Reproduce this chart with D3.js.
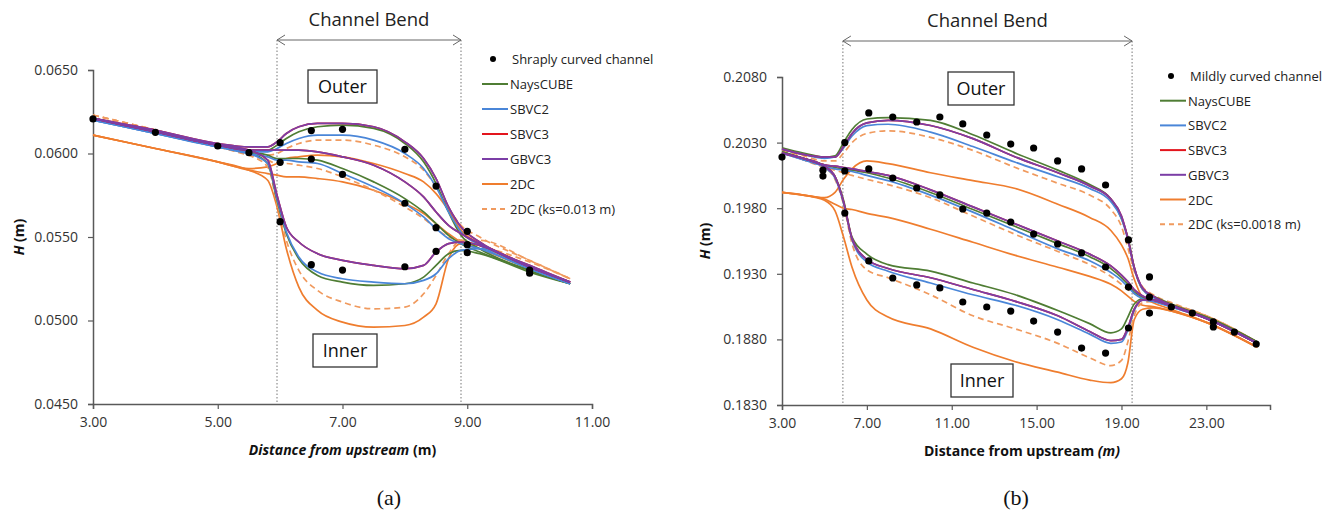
<!DOCTYPE html>
<html>
<head>
<meta charset="utf-8">
<script src="https://d3js.org/d3.v7.min.js"></script>
<style>
  body { margin: 0; background: #fff; }
  text { font-family: "Open Sans", "Noto Sans", sans-serif; }
</style>
</head>
<body>
<svg id="fig" width="1338" height="520"></svg>
<script>

// ---------- panel (a): sharply curved channel ----------
const xA = [3, 4, 5, 5.5, 5.8, 5.95, 6.1, 6.3, 6.6, 7, 7.5, 8, 8.3, 8.5, 8.7, 8.9, 9.2, 10, 10.65]
// each model: [outer, centre, inner]
const naysA = [
  [.0621,.0613,.0605,.0602,.0602,.0605,.0609,.0613,.0616,.0617,.0615,.0606,.0595,.0582,.0565,.0551,.0543,.0530,.0522],
  [.0621,.0613,.0605,.0601,.0599,.0597,.0597,.0597,.0596,.0591,.0583,.0573,.0565,.0558,.0551,.0546,.0541,.0530,.0522],
  [.0621,.0613,.0605,.0601,.0594,.0572,.0552,.0537,.0527,.0523,.0521,.0522,.0526,.0533,.0540,.0542,.0540,.0529,.0522]]
const sbvc2A = [
  [.0620,.0612,.0604,.0601,.0601,.0603,.0606,.0609,.0611,.0611,.0608,.0600,.0591,.0580,.0565,.0553,.0545,.0531,.0522],
  [.0620,.0612,.0604,.0600,.0598,.0596,.0596,.0595,.0594,.0588,.0580,.0570,.0562,.0555,.0549,.0546,.0543,.0531,.0522],
  [.0620,.0612,.0604,.0600,.0594,.0573,.0553,.0538,.0529,.0525,.0523,.0522,.0524,.0528,.0537,.0542,.0543,.0531,.0522]]
const sbvc3A = [
  [.0621,.0614,.0606,.0604,.0604,.0607,.0612,.0616,.0618,.0618,.0616,.0607,.0597,.0585,.0568,.0556,.0547,.0533,.0523],
  [.0621,.0613,.0605,.0602,.0602,.0602,.0602,.0602,.0601,.0598,.0593,.0583,.0574,.0565,.0557,.0552,.0546,.0532,.0523],
  [.0621,.0613,.0605,.0602,.0596,.0575,.0556,.0547,.0540,.0536,.0533,.0531,.0533,.0541,.0546,.0547,.0545,.0532,.0523]]
const gbvc3A = [
  [.0621,.0614,.0606,.0604,.0604,.0607,.0612,.0616,.0618,.0618,.0616,.0607,.0597,.0585,.0568,.0556,.0547,.0533,.0523],
  [.0621,.0613,.0605,.0602,.0602,.0602,.0602,.0602,.0601,.0598,.0593,.0583,.0574,.0565,.0557,.0552,.0546,.0532,.0523],
  [.0621,.0613,.0605,.0602,.0596,.0575,.0556,.0547,.0540,.0536,.0533,.0531,.0533,.0541,.0546,.0547,.0545,.0532,.0523]]
const dc2A = [
  [.0611,.0603,.0595,.0591,.0592,.0594,.0597,.0598,.0599,.0598,.0594,.0588,.0583,.0576,.0566,.0554,.0546,.0532,.0522],
  [.0611,.0603,.0595,.0590,.0588,.0587,.0586,.0586,.0585,.0583,.0578,.0570,.0564,.0558,.0552,.0547,.0543,.0531,.0522],
  [.0611,.0603,.0595,.0590,.0584,.0568,.0543,.0520,.0506,.0499,.0496,.0497,.0502,.0510,.0537,.0546,.0545,.0532,.0522]]
const dcKsA = [
  [.0623,.0614,.0604,.0600,.0599,.0600,.0603,.0606,.0608,.0608,.0605,.0598,.0590,.0580,.0567,.0557,.0550,.0536,.0525],
  [.0623,.0614,.0604,.0599,.0596,.0594,.0594,.0593,.0591,.0586,.0578,.0568,.0561,.0555,.0550,.0548,.0545,.0535,.0525],
  [.0623,.0614,.0604,.0599,.0592,.0570,.0548,.0530,.0518,.0511,.0507,.0508,.0516,.0527,.0540,.0548,.0548,.0536,.0525]]
// measured points
const measXA = [3, 4, 5, 5.5, 6, 6, 6, 6.5, 6.5, 6.5, 7, 7, 7, 8, 8, 8, 8.5, 8.5, 8.5, 9, 9, 9, 10, 10]
const measYA = [.06207, .06127, .06045, .06005, .06065, .05947, .05592, .06137, .05967, .05334,
  .06145, .05875, .05302, .06025, .05702, .05322, .05805, .05556, .05414, .05534, .05454, .05406, .05302, .05283]
const bendA = [5.95, 8.9]
const xTicksA = [3, 5, 7, 9, 11]
const yTicksA = [0.045, 0.050, 0.055, 0.060, 0.065]

// ---------- panel (b): mildly curved channel ----------
const xB = [3, 4, 5, 5.5, 5.9, 6.3, 7, 8, 10, 12, 14, 16, 17.5, 18.5, 19, 19.3, 19.6, 20, 20.5, 21.5, 23, 25.4]
const naysB = [
  [.2026,.2022,.2019,.2020,.2030,.2040,.2048,.2049,.2047,.2036,.2022,.2009,.1998,.1987,.1972,.1958,.1935,.1918,.1913,.1906,.1897,.1878],
  [.2023,.2018,.2013,.2011,.2010,.2009,.2007,.2003,.1992,.1979,.1966,.1953,.1943,.1934,.1927,.1922,.1916,.1912,.1910,.1905,.1897,.1878],
  [.2023,.2018,.2012,.2004,.1986,.1958,.1945,.1937,.1932,.1923,.1914,.1902,.1892,.1885,.1888,.1897,.1907,.1911,.1910,.1905,.1897,.1878]]
const sbvc2B = [
  [.2025,.2021,.2018,.2019,.2026,.2035,.2043,.2044,.2038,.2027,.2015,.2004,.1995,.1985,.1972,.1956,.1934,.1918,.1912,.1905,.1896,.1877],
  [.2022,.2017,.2012,.2010,.2009,.2008,.2005,.2001,.1990,.1977,.1963,.1949,.1940,.1931,.1925,.1920,.1915,.1911,.1909,.1904,.1896,.1877],
  [.2022,.2017,.2011,.2003,.1984,.1956,.1939,.1932,.1923,.1914,.1906,.1895,.1884,.1877,.1878,.1887,.1902,.1910,.1909,.1904,.1896,.1877]]
const sbvc3B = [
  [.2025,.2021,.2019,.2019,.2027,.2037,.2045,.2047,.2043,.2033,.2019,.2007,.1997,.1987,.1974,.1957,.1935,.1919,.1913,.1905,.1896,.1877],
  [.2022,.2018,.2013,.2012,.2011,.2010,.2008,.2005,.1994,.1981,.1968,.1955,.1945,.1936,.1929,.1924,.1918,.1913,.1910,.1905,.1896,.1877],
  [.2022,.2018,.2012,.2004,.1985,.1957,.1941,.1934,.1927,.1918,.1909,.1898,.1886,.1879,.1880,.1889,.1903,.1910,.1910,.1905,.1896,.1877]]
const gbvc3B = [
  [.2025,.2021,.2019,.2019,.2027,.2037,.2045,.2047,.2043,.2033,.2019,.2007,.1997,.1987,.1974,.1957,.1935,.1919,.1913,.1905,.1896,.1877],
  [.2022,.2018,.2013,.2012,.2011,.2010,.2008,.2005,.1994,.1981,.1968,.1955,.1945,.1936,.1929,.1924,.1918,.1913,.1910,.1905,.1896,.1877],
  [.2022,.2018,.2012,.2004,.1985,.1957,.1941,.1934,.1927,.1918,.1909,.1898,.1886,.1879,.1880,.1889,.1903,.1910,.1910,.1905,.1896,.1877]]
const dc2B = [
  [.1992,.1990,.1988,.1992,.2002,.2010,.2016,.2014,.2007,.2001,.1995,.1983,.1973,.1963,.1952,.1942,.1926,.1912,.1908,.1902,.1893,.1874],
  [.1992,.1990,.1987,.1983,.1980,.1979,.1976,.1973,.1964,.1954,.1944,.1935,.1928,.1922,.1917,.1913,.1909,.1906,.1905,.1901,.1893,.1874],
  [.1992,.1990,.1986,.1978,.1958,.1935,.1910,.1897,.1888,.1874,.1863,.1855,.1849,.1847,.1850,.1862,.1895,.1903,.1904,.1901,.1893,.1874]]
const dcKsB = [
  [.2024,.2020,.2016,.2016,.2022,.2030,.2037,.2039,.2034,.2024,.2011,.1999,.1990,.1979,.1966,.1950,.1932,.1920,.1914,.1907,.1898,.1878],
  [.2023,.2017,.2011,.2009,.2007,.2005,.2002,.1998,.1988,.1974,.1960,.1947,.1937,.1928,.1922,.1918,.1915,.1912,.1910,.1906,.1898,.1878],
  [.2023,.2017,.2011,.2002,.1983,.1953,.1933,.1927,.1914,.1898,.1888,.1877,.1866,.1860,.1864,.1878,.1898,.1908,.1909,.1906,.1898,.1878]]
const measXB = [3, 4.93, 4.93,
  5.96, 7.09, 8.22, 9.35, 10.44, 11.52, 12.65, 13.78, 14.86, 15.99, 17.12, 18.25, 19.33, 20.32,
  5.96, 7.09, 8.22, 9.35, 10.44, 11.52, 12.65, 13.78, 14.86, 15.99, 17.12, 18.25, 19.33, 20.32,
  5.96, 7.09, 8.22, 9.35, 10.44, 11.52, 12.65, 13.78, 14.86, 15.99, 17.12, 18.25, 19.33, 20.32,
  21.35, 22.34, 23.33, 23.33, 24.32, 25.35]
const measYB = [.2019, .2009, .20045,
  .2030, .20526, .20495, .20457, .20495, .20442, .20358, .20289, .20259, .2016, .20099, .19977, .19558, .19276,
  .20084, .20099, .2003, .19954, .19901, .19794, .19763, .19695, .19603, .19527, .19459, .19352, .19199, .19123,
  .19763, .19398, .19268, .19215, .19192, .19085, .19047, .19016, .1894, .18856, .18734, .18696, .18887, .19001,
  .19047, .19001, .18933, .18895, .18856, .18765]
const bendB = [5.87, 19.5]
const xTicksB = [3, 7, 11, 15, 19, 23]
const yTicksB = [0.183, 0.188, 0.193, 0.198, 0.203, 0.208]

const seriesNames = ["NaysCUBE", "SBVC2", "SBVC3", "GBVC3", "2DC"]
const seriesColors = ["#4f7d34", "#4a86d8", "#e3151d", "#7b3ea6", "#ef7d2e"]
const dashColor = "#f09a5e"

const svg = d3.select("#fig")

function drawPanel(p) {
  const x = d3.scaleLinear().domain(p.xDomain).range(p.xRange)
  const y = d3.scaleLinear().domain(p.yDomain).range(p.yRange)
  const g = svg.append("g")

  // bend markers
  p.bend.forEach(b => {
    g.append("line")
      .attr("x1", x(b)).attr("x2", x(b))
      .attr("y1", p.arrowY).attr("y2", p.yRange[0])
      .attr("stroke", "#777").attr("stroke-width", 1).attr("stroke-dasharray", "1.5,2")
  })
  const ax1 = x(p.bend[0]), ax2 = x(p.bend[1])
  g.append("line").attr("x1", ax1).attr("x2", ax2).attr("y1", p.arrowY).attr("y2", p.arrowY)
    .attr("stroke", "#666").attr("stroke-width", 1)
  g.append("path").attr("fill", "none").attr("stroke", "#666").attr("stroke-width", 1)
    .attr("d", `M${ax1 + 8},${p.arrowY - 5}L${ax1},${p.arrowY}L${ax1 + 8},${p.arrowY + 5}` +
               `M${ax2 - 8},${p.arrowY - 5}L${ax2},${p.arrowY}L${ax2 - 8},${p.arrowY + 5}`)
  g.append("text").attr("x", (ax1 + ax2) / 2).attr("y", p.arrowY - 14)
    .attr("text-anchor", "middle").attr("font-size", 18.5).attr("fill", "#222").text("Channel Bend")

  // axes
  const xAxis = g.append("g").attr("transform", "translate(0," + p.yRange[0] + ")")
    .call(d3.axisBottom(x).tickValues(p.xTicks).tickFormat(d3.format(".2f")).tickSize(5).tickPadding(8))
  const yAxis = g.append("g").attr("transform", "translate(" + p.xRange[0] + ",0)")
    .call(d3.axisLeft(y).tickValues(p.yTicks).tickFormat(d3.format(".4f")).tickSize(5).tickPadding(10))
  ;[xAxis, yAxis].forEach(a => {
    a.select(".domain").attr("stroke", "#595959").attr("stroke-width", 1.5)
    a.selectAll(".tick line").attr("stroke", "#595959").attr("stroke-width", 1.2)
    a.selectAll(".tick text").attr("font-size", 14).attr("fill", "#333")
      .style("font-family", "'Open Sans', sans-serif")
  })

  // model lines
  const line = d3.line().x((d, i) => x(p.xs[i])).y(d => y(d)).curve(d3.curveMonotoneX)
  const order = [4, 5, 0, 1, 2, 3]
  order.forEach(k => {
    const model = p.models[k]
    model.forEach(tr => {
      g.append("path").datum(tr)
        .attr("fill", "none")
        .attr("stroke", k == 5 ? dashColor : seriesColors[k])
        .attr("stroke-width", 1.7)
        .attr("stroke-dasharray", k == 5 ? "6,4" : null)
        .attr("d", line)
    })
  })

  // measured points
  g.selectAll(".meas").data(p.measX).join("circle")
    .attr("cx", d => x(d)).attr("cy", (d, i) => y(p.measY[i]))
    .attr("r", 3.6).attr("fill", "#000")

  // Outer / Inner boxes
  p.boxes.forEach(b => {
    g.append("rect").attr("x", b.x).attr("y", b.y).attr("width", b.w).attr("height", b.h)
      .attr("fill", "#fff").attr("stroke", "#333").attr("stroke-width", 1.3)
    g.append("text").attr("x", b.x + b.w / 2).attr("y", b.y + b.h / 2 + 6)
      .attr("text-anchor", "middle").attr("font-size", 18).attr("fill", "#111").text(b.label)
  })

  // legend
  const lg = g.append("g").attr("transform", "translate(" + p.legX + "," + p.legY + ")")
  lg.append("circle").attr("cx", 11).attr("cy", 0).attr("r", 3).attr("fill", "#000")
  lg.append("text").attr("x", 30).attr("y", 5).attr("font-size", 13).attr("fill", "#222").text(p.measName)
  const legNames = seriesNames.concat([p.ksName])
  legNames.forEach((n, i) => {
    const yy = (i + 1) * p.legStep
    lg.append("line").attr("x1", 0).attr("x2", 26).attr("y1", yy).attr("y2", yy)
      .attr("stroke", i == 5 ? dashColor : seriesColors[i]).attr("stroke-width", 2)
      .attr("stroke-dasharray", i == 5 ? "5,4" : null)
    lg.append("text").attr("x", 28).attr("y", yy + 5).attr("font-size", 13).attr("fill", "#222").text(n)
  })

  // axis titles
  const xt = g.append("text").attr("x", (p.xRange[0] + p.xRange[1]) / 2 + p.xTitleShift).attr("y", p.yRange[0] + 51)
    .attr("text-anchor", "middle").attr("font-size", 14).attr("font-weight", "bold").attr("fill", "#111")
  p.xTitle.forEach(t => xt.append("tspan").attr("font-style", t[1] ? "italic" : "normal").text(t[0]))
  const yt = g.append("text").attr("transform", "translate(" + p.yTitleX + "," + ((p.yRange[0] + p.yRange[1]) / 2) + ") rotate(-90)")
    .attr("text-anchor", "middle").attr("font-size", 14).attr("font-weight", "bold").attr("fill", "#111")
  yt.append("tspan").attr("font-style", "italic").text("H")
  yt.append("tspan").text(" (m)")

  // panel label
  svg.append("text").attr("x", p.label[1]).attr("y", 505).attr("text-anchor", "middle")
    .attr("font-size", 22).style("font-family", "'Liberation Serif', serif").attr("fill", "#111").text(p.label[0])
}

drawPanel({
  xs: xA, models: [naysA, sbvc2A, sbvc3A, gbvc3A, dc2A, dcKsA],
  measX: measXA, measY: measYA, bend: bendA, xTicks: xTicksA, yTicks: yTicksA,
  xDomain: [3, 11], xRange: [93, 592], yDomain: [0.045, 0.065], yRange: [404, 70],
  arrowY: 40,
  boxes: [{x: 308, y: 70, w: 69, h: 33, label: "Outer"}, {x: 313, y: 334, w: 64, h: 33, label: "Inner"}],
  legX: 482, legY: 59, legStep: 25, measName: "Shraply curved channel", ksName: "2DC (ks=0.013 m)",
  xTitle: [["Distance from upstream", true], [" (m)", false]], xTitleShift: 0, yTitleX: 24,
  label: ["(a)", 389]
})

drawPanel({
  xs: xB, models: [naysB, sbvc2B, sbvc3B, gbvc3B, dc2B, dcKsB],
  measX: measXB, measY: measYB, bend: bendB, xTicks: xTicksB, yTicks: yTicksB,
  xDomain: [3, 26], xRange: [782, 1270], yDomain: [0.183, 0.208], yRange: [405, 77],
  arrowY: 41,
  boxes: [{x: 948, y: 72, w: 66, h: 33, label: "Outer"}, {x: 951, y: 364, w: 62, h: 33, label: "Inner"}],
  legX: 1160, legY: 76, legStep: 24.7, measName: "Mildly curved channel", ksName: "2DC (ks=0.0018 m)",
  xTitle: [["Distance from upstream ", false], ["(m)", true]], xTitleShift: -4, yTitleX: 710,
  label: ["(b)", 1016]
})
</script>
</body>
</html>
